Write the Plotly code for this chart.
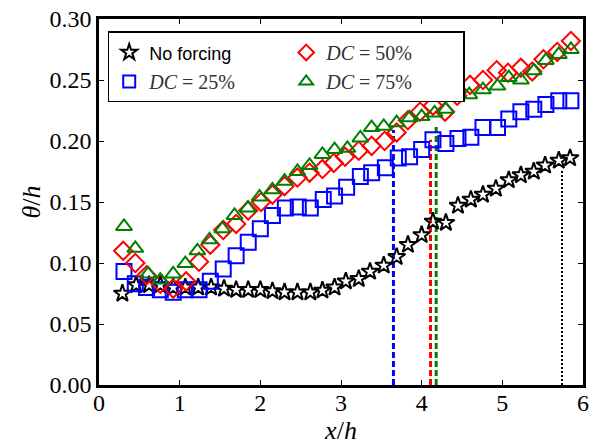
import plotly.graph_objects as go

# ---- data ----
x_nf = [0.29, 0.46, 0.62, 0.76, 0.92, 1.07, 1.23, 1.39, 1.55, 1.70, 1.85, 2.00, 2.15, 2.30, 2.46, 2.62, 2.77,
        2.92, 3.06, 3.22, 3.36, 3.53, 3.69, 3.83, 4.00, 4.14, 4.30, 4.45, 4.61, 4.76, 4.92, 5.08, 5.23, 5.39,
        5.53, 5.70, 5.84]
y_nf = [0.075, 0.082, 0.082, 0.082, 0.080, 0.080, 0.080, 0.080, 0.079, 0.078, 0.078, 0.078, 0.077, 0.076,
        0.076, 0.076, 0.0775, 0.080, 0.085, 0.087, 0.093, 0.098, 0.105, 0.115, 0.123, 0.134, 0.133, 0.147,
        0.152, 0.156, 0.161, 0.168, 0.172, 0.175, 0.180, 0.184, 0.186]

x_25 = [0.31, 0.45, 0.59, 0.76, 0.92, 1.07, 1.24, 1.38, 1.54, 1.70, 1.85, 2.00, 2.15, 2.31, 2.47, 2.62, 2.78,
        2.92, 3.07, 3.24, 3.38, 3.55, 3.71, 3.85, 4.00, 4.14, 4.30, 4.45, 4.61, 4.76, 4.94, 5.08, 5.23, 5.39,
        5.54, 5.70, 5.85]
y_25 = [0.093, 0.083, 0.080, 0.078, 0.076, 0.078, 0.078, 0.085, 0.095, 0.106, 0.117, 0.128, 0.139, 0.145,
        0.146, 0.145, 0.152, 0.155, 0.162, 0.171, 0.174, 0.178, 0.186, 0.187, 0.193, 0.201, 0.198, 0.202,
        0.203, 0.211, 0.211, 0.218, 0.224, 0.226, 0.230, 0.233, 0.233]

x_50 = [0.30, 0.45, 0.59, 0.76, 0.92, 1.08, 1.24, 1.38, 1.54, 1.70, 1.85, 2.01, 2.15, 2.30, 2.46, 2.61, 2.77,
        2.91, 3.05, 3.22, 3.38, 3.54, 3.69, 3.83, 3.98, 4.14, 4.29, 4.44, 4.60, 4.76, 4.93, 5.07, 5.23, 5.37,
        5.51, 5.68, 5.85]
y_50 = [0.110, 0.100, 0.090, 0.083, 0.079, 0.085, 0.101, 0.115, 0.127, 0.132, 0.143, 0.150, 0.156, 0.163,
        0.170, 0.174, 0.177, 0.182, 0.187, 0.192, 0.196, 0.200, 0.207, 0.217, 0.224, 0.229, 0.224, 0.237,
        0.246, 0.250, 0.258, 0.256, 0.260, 0.257, 0.267, 0.273, 0.282]

x_75 = [0.31, 0.45, 0.61, 0.76, 0.92, 1.07, 1.22, 1.37, 1.53, 1.68, 1.845, 1.99, 2.15, 2.30, 2.46, 2.61, 2.77,
        2.92, 3.08, 3.24, 3.38, 3.53, 3.69, 3.85, 4.00, 4.16, 4.30, 4.45, 4.59, 4.76, 4.94, 5.08, 5.23, 5.39,
        5.54, 5.70, 5.85]
y_75 = [0.130, 0.112, 0.091, 0.086, 0.091, 0.0995, 0.110, 0.119, 0.128, 0.139, 0.145, 0.154, 0.160, 0.167,
        0.175, 0.180, 0.189, 0.193, 0.194, 0.2025, 0.211, 0.212, 0.215, 0.219, 0.220, 0.223, 0.226, 0.238,
        0.238, 0.242, 0.245, 0.252, 0.250, 0.2575, 0.266, 0.271, 0.275]

# vertical marker lines (x position, height)
vline_x = [3.65, 4.11, 4.18, 5.74]
vline_top = [0.209, 0.201, 0.212, 0.177]
vline_color = ["#0000ff", "#ff0000", "#008000", "#000000"]
vline_dash = ["6px,3px", "6px,3px", "6px,3px", "2px,2px"]
vline_width = [3, 3, 3, 2]

x_ticks = [0, 1, 2, 3, 4, 5, 6]
y_ticks = [0.00, 0.05, 0.10, 0.15, 0.20, 0.25, 0.30]

SERIF = "Liberation Serif"

fig = go.Figure()

for xv, yt, c, d, w in zip(vline_x, vline_top, vline_color, vline_dash, vline_width):
    fig.add_trace(go.Scatter(x=[xv, xv], y=[0, yt], mode="lines",
                             line=dict(color=c, dash=d, width=w), showlegend=False, hoverinfo="skip"))

fig.add_trace(go.Scatter(x=x_nf, y=y_nf, mode="markers",
                         name="<span style='font-family:Liberation Sans;font-size:18px;fill:#000'>No forcing</span>",
                         legendrank=1,
                         marker=dict(symbol="star-open", size=13, color="black", line=dict(width=2, color="black"))))
fig.add_trace(go.Scatter(x=x_25, y=y_25, mode="markers", name="<i>DC</i> = 25%", legendrank=3,
                         marker=dict(symbol="square-open", size=15, color="#0000ff", line=dict(width=2, color="#0000ff"))))
fig.add_trace(go.Scatter(x=x_50, y=y_50, mode="markers", name="<i>DC</i> = 50%", legendrank=2,
                         marker=dict(symbol="diamond-open", size=14, color="#ff0000", line=dict(width=2, color="#ff0000"))))
fig.add_trace(go.Scatter(x=x_75, y=y_75, mode="markers", name="<i>DC</i> = 75%", legendrank=4,
                         marker=dict(symbol="triangle-up-open", size=14, color="#008000", line=dict(width=2, color="#008000"))))

tickfont = dict(family=SERIF, size=24, color="black")
titlefont = dict(family=SERIF, size=26, color="black")

fig.update_layout(
    width=593, height=446,
    margin=dict(l=99, r=4, t=19, b=61),
    font=dict(family=SERIF, size=22, color="black"),
    plot_bgcolor="white", paper_bgcolor="white",
    xaxis=dict(range=[0, 6], tickmode="array", tickvals=x_ticks,
               ticktext=[str(v) for v in x_ticks],
               tickfont=tickfont, ticklabelstandoff=-6,
               title=dict(text="<i>x</i>/<i>h</i>", font=titlefont, standoff=0),
               showline=True, linewidth=2.5, linecolor="black", mirror="allticks",
               ticks="inside", ticklen=5, tickwidth=1, tickcolor="black",
               showgrid=False, zeroline=False),
    yaxis=dict(range=[0, 0.30], tickmode="array", tickvals=y_ticks,
               ticktext=[f"{v:.2f}" for v in y_ticks],
               tickfont=tickfont,
               title=dict(text="<i>θ</i>/<i>h</i>", font=titlefont, standoff=2),
               showline=True, linewidth=2.5, linecolor="black", mirror="allticks",
               ticks="inside", ticklen=5, tickwidth=1, tickcolor="black",
               showgrid=False, zeroline=False),
    legend=dict(orientation="h", x=0.018, y=0.966, xanchor="left", yanchor="top",
                entrywidth=132, entrywidthmode="pixels",
                bgcolor="white", bordercolor="black", borderwidth=1.5,
                font=dict(family=SERIF, size=20, color="#333333"),
                itemsizing="constant", tracegroupgap=0),
)

fig.write_html("out.html")
